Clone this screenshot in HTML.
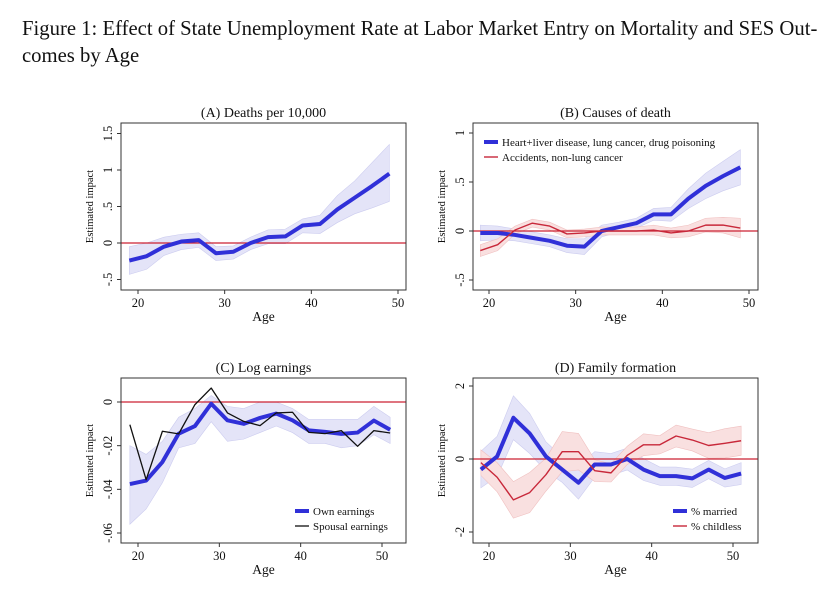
<!DOCTYPE html>
<html><head><meta charset="utf-8">
<style>
body{margin:0;background:#fff;width:840px;height:590px;overflow:hidden}
.t{font-family:"Liberation Serif",serif;fill:#111}
</style></head>
<body>
<div style="position:absolute;left:22px;top:16px;width:810px;font-family:'Liberation Serif',serif;font-size:20.7px;line-height:27px;color:#111;white-space:nowrap">Figure 1: Effect of State Unemployment Rate at Labor Market Entry on Mortality and SES Out-<br>comes by Age</div>
<svg id="svg" width="840" height="590" style="position:absolute;left:0;top:0"></svg>
<script>
const agesAB=[19,21,23,25,27,29,31,33,35,37,39,41,43,45,47,49];
const agesCD=[19,21,23,25,27,29,31,33,35,37,39,41,43,45,47,49,51];
const deaths=[-0.24,-0.18,-0.05,0.02,0.04,-0.14,-0.12,0.0,0.08,0.09,0.24,0.26,0.46,0.62,0.78,0.95];
const deathsHi=[-0.05,0.0,0.08,0.12,0.14,-0.05,-0.04,0.08,0.18,0.19,0.33,0.38,0.65,0.85,1.1,1.35];
const deathsLo=[-0.43,-0.36,-0.17,-0.09,-0.06,-0.24,-0.22,-0.09,-0.01,-0.01,0.14,0.13,0.28,0.4,0.48,0.57];
const heart=[-0.02,-0.02,-0.04,-0.07,-0.10,-0.15,-0.16,0.0,0.04,0.08,0.17,0.17,0.33,0.46,0.56,0.65];
const heartSE=[0.08,0.07,0.06,0.06,0.06,0.07,0.08,0.06,0.05,0.05,0.06,0.07,0.1,0.13,0.15,0.18];
const accid=[-0.2,-0.14,0.01,0.08,0.05,-0.03,-0.02,0.0,0.0,0.0,0.01,-0.02,0.0,0.06,0.06,0.03];
const accidSE=[0.06,0.06,0.04,0.04,0.04,0.04,0.04,0.04,0.04,0.04,0.05,0.05,0.06,0.07,0.08,0.1];
const ownEarn=[-0.0376,-0.036,-0.0275,-0.0145,-0.011,-0.0008,-0.0084,-0.010,-0.0073,-0.0053,-0.0084,-0.013,-0.0137,-0.0146,-0.014,-0.0085,-0.0127];
const ownHi=[-0.02,-0.024,-0.018,-0.007,-0.003,0.003,-0.002,-0.003,0.0,0.0,-0.003,-0.008,-0.008,-0.008,-0.008,-0.002,-0.007];
const ownLo=[-0.056,-0.049,-0.037,-0.021,-0.019,-0.009,-0.018,-0.017,-0.014,-0.011,-0.014,-0.019,-0.019,-0.021,-0.02,-0.015,-0.019];
const spouse=[-0.0104,-0.0356,-0.0134,-0.0146,-0.0012,0.0064,-0.005,-0.0089,-0.0108,-0.005,-0.0047,-0.0139,-0.0145,-0.0131,-0.0203,-0.0131,-0.0142];
const married=[-0.29,0.07,1.13,0.7,0.07,-0.29,-0.65,-0.15,-0.15,0.0,-0.29,-0.47,-0.47,-0.53,-0.29,-0.52,-0.4];
const marriedSE=[0.5,0.55,0.6,0.55,0.4,0.35,0.45,0.35,0.3,0.3,0.3,0.25,0.25,0.25,0.25,0.25,0.3];
const childless=[-0.1,-0.5,-1.12,-0.92,-0.43,0.2,0.2,-0.32,-0.38,0.1,0.39,0.39,0.63,0.52,0.37,0.43,0.5];
const childSE=[0.35,0.4,0.5,0.55,0.45,0.55,0.5,0.3,0.25,0.25,0.3,0.25,0.3,0.3,0.35,0.4,0.4];
const xTicks=[20,30,40,50];
const yTicksA=[-0.5,0,0.5,1,1.5], yLabA=["-.5","0",".5","1","1.5"];
const yTicksB=[-0.5,0,0.5,1], yLabB=["-.5","0",".5","1"];
const yTicksC=[-0.06,-0.04,-0.02,0], yLabC=["-.06","-.04","-.02","0"];
const yTicksD=[-2,0,2], yLabD=["-2","0","2"];

const S=document.getElementById('svg');const NS='http://www.w3.org/2000/svg';
function el(t,a,p){const e=document.createElementNS(NS,t);for(const k in a)e.setAttribute(k,a[k]);(p||S).appendChild(e);return e;}
function panel(o){
  const g=el('g',{});
  
  
  const X=v=>o.x20+(v-20)*(o.x50-o.x20)/30;
  const Y=v=>o.y0+(v-o.v0)*(o.y1-o.y0)/(o.v1-o.v0);
  const tt=el('text',{x:(o.L+o.R)/2,y:o.T-6,'text-anchor':'middle','font-size':14,class:'t'},g);tt.textContent=o.title;
  
  o.bands.forEach(b=>{
    let pts=b.ages.map((a,i)=>X(a)+','+Y(b.hi[i]));
    pts=pts.concat(b.ages.map((a,i)=>X(a)+','+Y(b.lo[i])).reverse());
    const p=el('polygon',{points:pts.join(' '),fill:b.fill,stroke:b.stroke,'stroke-width':0.6},g);
    
  });
  const z=el('line',{x1:o.L,x2:o.R,y1:Y(0),y2:Y(0),stroke:'#cc2233','stroke-width':1.3},g);
  
  o.lines.forEach(l=>{
    const p=el('polyline',{points:l.ages.map((a,i)=>X(a)+','+Y(l.v[i])).join(' '),fill:'none',stroke:l.c,'stroke-width':l.w,'stroke-linejoin':'round'},g);
    
  });
  const fr=el('rect',{x:o.L,y:o.T,width:o.R-o.L,height:o.B-o.T,fill:'none',stroke:'#333','stroke-width':1},g);
  
  xTicks.forEach(v=>{
    el('line',{x1:X(v),x2:X(v),y1:o.B,y2:o.B+4,stroke:'#333'},g);
    const t=el('text',{x:X(v),y:o.B+17,'text-anchor':'middle','font-size':12.5,class:'t'},g);t.textContent=v;
    
  });
  o.yt.forEach((v,i)=>{
    el('line',{x1:o.L-4,x2:o.L,y1:Y(v),y2:Y(v),stroke:'#333'},g);
    const t=el('text',{x:o.L-9,y:Y(v),'text-anchor':'middle','font-size':12.5,class:'t',transform:`rotate(-90 ${o.L-9} ${Y(v)})`},g);t.textContent=o.yl[i];
    
  });
  const ax=el('text',{x:(o.L+o.R)/2,y:o.B+31,'text-anchor':'middle','font-size':13.5,class:'t'},g);ax.textContent='Age';
  
  const yx=o.L-28,yy=(o.T+o.B)/2;
  const ay=el('text',{x:yx,y:yy,'text-anchor':'middle','font-size':10.5,class:'t',transform:`rotate(-90 ${yx} ${yy})`},g);ay.textContent='Estimated impact';
  
  (o.legend||[]).forEach(lg=>{
    el('line',{x1:lg.x,x2:lg.x+14,y1:lg.y,y2:lg.y,stroke:lg.c,'stroke-width':lg.w},g);
    const t=el('text',{x:lg.x+18,y:lg.y+4,'font-size':11,class:'t'},g);t.textContent=lg.t;
    
  });
}
const BLUE='#3030d8',BF='#e4e4f8',BS='#ccccef',RED='#c8283a',RF='#f9e0e0',RS='#f0c0c0';
const add=(v,s)=>v.map((x,i)=>x+s[i]), sub=(v,s)=>v.map((x,i)=>x-s[i]);
panel({name:'panel-a-deaths',title:'(A) Deaths per 10,000',L:121,R:406,T:123,B:290,x20:138,x50:398,v0:0,y0:243,v1:1,y1:170,yt:yTicksA,yl:yLabA,
 bands:[{ages:agesAB,hi:deathsHi,lo:deathsLo,fill:BF,stroke:BS}],
 lines:[{name:'deaths-line',ages:agesAB,v:deaths,c:BLUE,w:4}]});
panel({name:'panel-b-causes',title:'(B) Causes of death',L:473,R:758,T:123,B:290,x20:489,x50:749,v0:0,y0:231,v1:1,y1:133,yt:yTicksB,yl:yLabB,
 bands:[{ages:agesAB,hi:add(heart,heartSE),lo:sub(heart,heartSE),fill:BF,stroke:BS},{ages:agesAB,hi:add(accid,accidSE),lo:sub(accid,accidSE),fill:RF,stroke:RS}],
 lines:[{name:'heart-liver-line',ages:agesAB,v:heart,c:BLUE,w:4},{name:'accidents-line',ages:agesAB,v:accid,c:RED,w:1.4}],
 legend:[{x:484,y:142,c:BLUE,w:4,t:'Heart+liver disease, lung cancer, drug poisoning'},{x:484,y:157,c:RED,w:1.4,t:'Accidents, non-lung cancer'}]});
panel({name:'panel-c-earnings',title:'(C) Log earnings',L:121,R:406,T:378,B:543,x20:138,x50:382,v0:0,y0:402,v1:-0.06,y1:533,yt:yTicksC,yl:yLabC,
 bands:[{ages:agesCD,hi:ownHi,lo:ownLo,fill:BF,stroke:BS}],
 lines:[{name:'own-earnings-line',ages:agesCD,v:ownEarn,c:BLUE,w:4},{name:'spousal-earnings-line',ages:agesCD,v:spouse,c:'#111',w:1.3}],
 legend:[{x:295,y:511,c:BLUE,w:4,t:'Own earnings'},{x:295,y:526,c:'#111',w:1.3,t:'Spousal earnings'}]});
panel({name:'panel-d-family',title:'(D) Family formation',L:473,R:758,T:378,B:543,x20:489,x50:733,v0:0,y0:459,v1:2,y1:386,yt:yTicksD,yl:yLabD,
 bands:[{ages:agesCD,hi:add(married,marriedSE),lo:sub(married,marriedSE),fill:BF,stroke:BS},{ages:agesCD,hi:add(childless,childSE),lo:sub(childless,childSE),fill:RF,stroke:RS}],
 lines:[{name:'married-line',ages:agesCD,v:married,c:BLUE,w:4},{name:'childless-line',ages:agesCD,v:childless,c:RED,w:1.4}],
 legend:[{x:673,y:511,c:BLUE,w:4,t:'% married'},{x:673,y:526,c:RED,w:1.4,t:'% childless'}]});
</script>
</body></html>
